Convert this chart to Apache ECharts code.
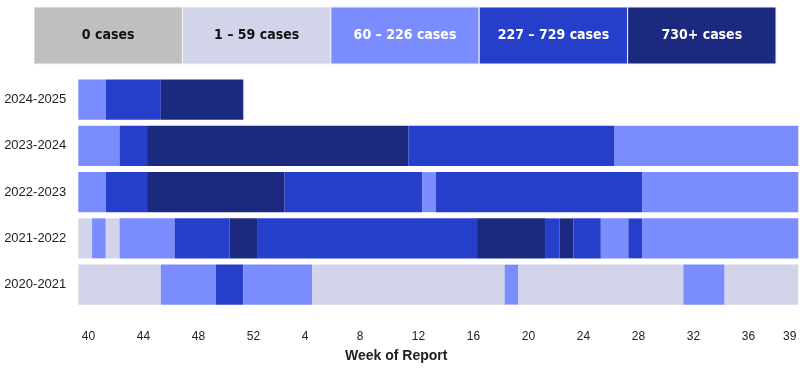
<!DOCTYPE html>
<html>
<head>
<meta charset="utf-8">
<script src="https://cdn.jsdelivr.net/npm/echarts@6/dist/echarts.min.js"></script>
<style>
html,body{margin:0;padding:0;background:#fff;}
#chart{width:804px;height:369px;}
</style>
</head>
<body>
<div id="chart"></div>
<script>
// ---- data ----
const seasons = ['2020-2021', '2021-2022', '2022-2023', '2023-2024', '2024-2025'];
const weeks = ['40','41','42','43','44','45','46','47','48','49','50','51','52',
  '1','2','3','4','5','6','7','8','9','10','11','12','13','14','15','16','17','18','19','20',
  '21','22','23','24','25','26','27','28','29','30','31','32','33','34','35','36','37','38','39'];
const tickLabels = ['40','44','48','52','4','8','12','16','20','24','28','32','36','39'];

// level per week of report: 0 = 0 cases, 1 = 1–59, 2 = 60–226, 3 = 227–729, 4 = 730+
const levels2020 = [1,1,1,1,1,1,2,2,2,2,3,3,2,2,2,2,2,1,1,1,1,1,1,1,1,1,1,1,1,1,1,2,1,1,1,1,1,1,1,1,1,1,1,1,2,2,2,1,1,1,1,1];
const levels2021 = [1,2,1,2,2,2,2,3,3,3,3,4,4,3,3,3,3,3,3,3,3,3,3,3,3,3,3,3,3,4,4,4,4,4,3,4,3,3,2,2,3,2,2,2,2,2,2,2,2,2,2,2];
const levels2022 = [2,2,3,3,3,4,4,4,4,4,4,4,4,4,4,3,3,3,3,3,3,3,3,3,3,2,3,3,3,3,3,3,3,3,3,3,3,3,3,3,3,2,2,2,2,2,2,2,2,2,2,2];
const levels2023 = [2,2,2,3,3,4,4,4,4,4,4,4,4,4,4,4,4,4,4,4,4,4,4,4,3,3,3,3,3,3,3,3,3,3,3,3,3,3,3,2,2,2,2,2,2,2,2,2,2,2,2,2];
const levels2024 = [2,2,3,3,3,3,4,4,4,4,4,4];

const legendLabels = ['0 cases', '1 – 59 cases', '60 – 226 cases', '227 – 729 cases', '730+ cases'];
const levelColors = ['#bfbfbf', '#d2d4e9', '#7b8cff', '#253fca', '#1b2a7f'];
const legendTextColors = ['#111111', '#111111', '#ffffff', '#ffffff', '#ffffff'];

// ---- build: merge consecutive weeks of equal level into runs ----
const seasonLevels = [levels2020, levels2021, levels2022, levels2023, levels2024];
const runData = []; // [startWeekIdx, endWeekIdxExclusive, seasonIdx, level]
seasonLevels.forEach((arr, s) => {
  let start = 0;
  for (let k = 1; k <= arr.length; k++) {
    if (k === arr.length || arr[k] !== arr[start]) {
      if (arr[start] !== null) runData.push([start, k, s, arr[start]]);
      start = k;
    }
  }
});
let searchFrom = 0;
const tickIdx = [];
tickLabels.forEach(t => {
  const idx = weeks.indexOf(t, searchFrom);
  tickIdx.push(idx);
  searchFrom = idx + 1;
});
const X_MAX = 52.36;
const LABEL_SHIFT = 0.25;

const chart = echarts.init(document.getElementById('chart'), null, {renderer: 'canvas'});
const option = {
  animation: false,
  backgroundColor: '#ffffff',
  grid: [
    {left: 78.3, top: 76.5, width: 720, height: 231.25},
    {left: 34, top: 7, width: 742, height: 57}
  ],
  xAxis: [
    {
      type: 'value', gridIndex: 0, min: 0, max: X_MAX,
      axisLine: {show: false}, axisTick: {show: false}, splitLine: {show: false},
      axisLabel: {
        customValues: tickIdx.map(i => i + LABEL_SHIFT),
        align: 'left', margin: 23, color: '#222', fontSize: 12,
        fontFamily: 'Liberation Sans, Arial, sans-serif',
        formatter: v => weeks[Math.round(v - LABEL_SHIFT)]
      }
    },
    {type: 'value', gridIndex: 1, min: 0, max: legendLabels.length, show: false}
  ],
  yAxis: [
    {
      type: 'category', gridIndex: 0, data: seasons,
      axisLine: {show: false}, axisTick: {show: false}, splitLine: {show: false},
      axisLabel: {color: '#222', fontSize: 13, margin: 12, fontFamily: 'Liberation Sans, Arial, sans-serif'}
    },
    {type: 'value', gridIndex: 1, min: 0, max: 1, show: false}
  ],
  graphic: [{
    type: 'text', left: 345, top: 349,
    style: {text: 'Week of Report', fill: '#222', font: 'bold 14px "Liberation Sans", Arial, sans-serif'}
  }],
  series: [
    {
      type: 'custom', xAxisIndex: 0, yAxisIndex: 0, data: runData,
      encode: {x: [0, 1], y: 2},
      renderItem: (params, api) => {
        const k0 = api.value(0), k1 = api.value(1), s = api.value(2), lvl = api.value(3);
        const p0 = api.coord([k0, s]);
        const p1 = api.coord([k1 === weeks.length ? X_MAX : k1, s]);
        const h = api.size([0, 1])[1] * 0.865;
        return {
          type: 'rect',
          shape: {x: p0[0], y: p0[1] - h / 2, width: p1[0] - p0[0], height: h},
          style: {fill: levelColors[lvl]}
        };
      }
    },
    {
      type: 'custom', xAxisIndex: 1, yAxisIndex: 1,
      data: legendLabels.map((l, i) => [i, l]),
      renderItem: (params, api) => {
        const i = api.value(0);
        const a = api.coord([i, 0]);
        const b = api.coord([i + 1, 1]);
        return {
          type: 'group',
          children: [
            {type: 'rect', shape: {x: a[0], y: b[1], width: b[0] - a[0], height: a[1] - b[1]},
             style: {fill: levelColors[i], stroke: '#f4f4f8', lineWidth: 1}},
            {type: 'text', style: {
              text: legendLabels[i], x: (a[0] + b[0]) / 2, y: (a[1] + b[1]) / 2,
              align: 'center', verticalAlign: 'middle', fill: legendTextColors[i],
              font: 'bold 14px "DejaVu Sans Condensed", "DejaVu Sans", sans-serif'
            }}
          ]
        };
      }
    }
  ]
};
chart.setOption(option);
</script>
</body>
</html>
